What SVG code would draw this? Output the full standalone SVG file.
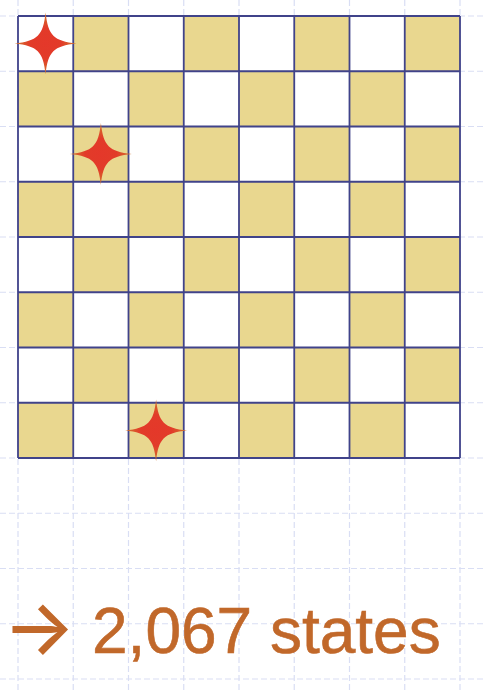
<svg xmlns="http://www.w3.org/2000/svg" width="486" height="690" viewBox="0 0 486 690">
<style>
.bg{stroke:#d9def4;stroke-width:1.2;stroke-dasharray:6 3;fill:none}
.tan{fill:#e9d78f}
.gl{stroke:#40438a;stroke-width:1.8;fill:none}
.lbl{font-family:"Liberation Sans",Arial,sans-serif;font-size:64px;fill:#c1682a;stroke:#c1682a;stroke-width:0.6}
.arr{font-family:Inter,"DejaVu Sans",sans-serif;font-size:76px;font-weight:500;fill:#c1682a}
</style>
<defs>
<radialGradient id="sg" cx="0.5" cy="0.5" r="0.5">
<stop offset="0" stop-color="#e4382a"/>
<stop offset="0.5" stop-color="#e23b29"/>
<stop offset="1" stop-color="#d2782c"/>
</radialGradient>
<path id="star" d="M0,-31 C2.5,-8 8,-2.5 31,0 C8,2.5 2.5,8 0,31 C-2.5,8 -8,2.5 -31,0 C-8,-2.5 -2.5,-8 0,-31 Z" fill="url(#sg)"/>
</defs>
<rect width="486" height="690" fill="#ffffff"/>
<g id="background-grid">
<path class="bg" d="M18,0V690M73.25,0V690M128.5,0V690M183.75,0V690M239,0V690M294.25,0V690M349.5,0V690M404.75,0V690M460,0V690"/>
<path class="bg" d="M0,16H486M0,71.25H486M0,126.5H486M0,181.75H486M0,237H486M0,292.25H486M0,347.5H486M0,402.75H486M0,458H486M0,513.25H486M0,568.5H486M0,623.75H486M0,679H486"/>
</g>
<g id="board">
<rect x="18" y="16" width="442" height="442" fill="#ffffff"/>
<g class="tan">
<rect x="73.25" y="16" width="55.25" height="55.25"/><rect x="183.75" y="16" width="55.25" height="55.25"/><rect x="294.25" y="16" width="55.25" height="55.25"/><rect x="404.75" y="16" width="55.25" height="55.25"/>
<rect x="18" y="71.25" width="55.25" height="55.25"/><rect x="128.5" y="71.25" width="55.25" height="55.25"/><rect x="239" y="71.25" width="55.25" height="55.25"/><rect x="349.5" y="71.25" width="55.25" height="55.25"/>
<rect x="73.25" y="126.5" width="55.25" height="55.25"/><rect x="183.75" y="126.5" width="55.25" height="55.25"/><rect x="294.25" y="126.5" width="55.25" height="55.25"/><rect x="404.75" y="126.5" width="55.25" height="55.25"/>
<rect x="18" y="181.75" width="55.25" height="55.25"/><rect x="128.5" y="181.75" width="55.25" height="55.25"/><rect x="239" y="181.75" width="55.25" height="55.25"/><rect x="349.5" y="181.75" width="55.25" height="55.25"/>
<rect x="73.25" y="237" width="55.25" height="55.25"/><rect x="183.75" y="237" width="55.25" height="55.25"/><rect x="294.25" y="237" width="55.25" height="55.25"/><rect x="404.75" y="237" width="55.25" height="55.25"/>
<rect x="18" y="292.25" width="55.25" height="55.25"/><rect x="128.5" y="292.25" width="55.25" height="55.25"/><rect x="239" y="292.25" width="55.25" height="55.25"/><rect x="349.5" y="292.25" width="55.25" height="55.25"/>
<rect x="73.25" y="347.5" width="55.25" height="55.25"/><rect x="183.75" y="347.5" width="55.25" height="55.25"/><rect x="294.25" y="347.5" width="55.25" height="55.25"/><rect x="404.75" y="347.5" width="55.25" height="55.25"/>
<rect x="18" y="402.75" width="55.25" height="55.25"/><rect x="128.5" y="402.75" width="55.25" height="55.25"/><rect x="239" y="402.75" width="55.25" height="55.25"/><rect x="349.5" y="402.75" width="55.25" height="55.25"/>
</g>
<path class="gl" d="M18,16V458M73.25,16V458M128.5,16V458M183.75,16V458M239,16V458M294.25,16V458M349.5,16V458M404.75,16V458M460,16V458M18,16H460M18,71.25H460M18,126.5H460M18,181.75H460M18,237H460M18,292.25H460M18,347.5H460M18,402.75H460M18,458H460"/>
</g>
<g id="star-1"><use href="#star" x="45.6" y="43.6"/></g>
<g id="star-2"><use href="#star" x="100.9" y="154.1"/></g>
<g id="star-3"><use href="#star" x="156.1" y="430.4"/></g>
<g id="label">
<text class="arr" x="3" y="654">→</text>
<text class="lbl" x="92" y="653">2,067 states</text>
</g>
</svg>
